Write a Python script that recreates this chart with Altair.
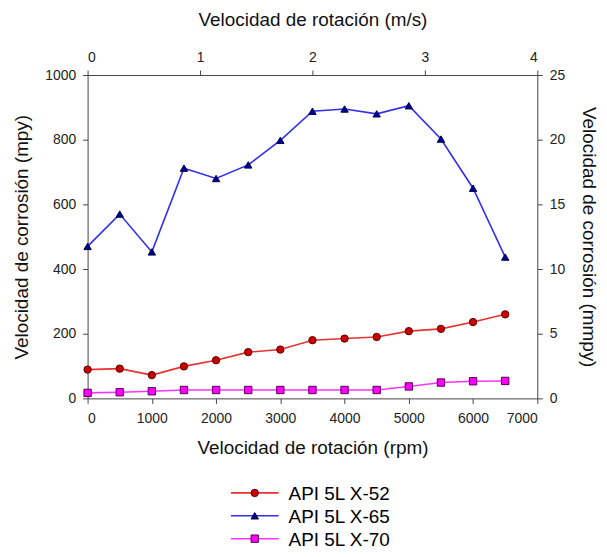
import altair as alt
import pandas as pd

rpm = [0, 500, 1000, 1500, 2000, 2500, 3000, 3500, 4000, 4500, 5000, 5500, 6000, 6500]
x52 = [89, 92, 72, 99, 118, 143, 151, 180, 185, 190, 208, 215, 236, 260]
x65 = [470, 570, 453, 712, 680, 722, 798, 888, 895, 880, 905, 802, 650, 437]
x70 = [17, 19, 22, 26, 26, 26, 26, 26, 26, 26, 37, 49, 53, 54]
series = ["API 5L X-52", "API 5L X-65", "API 5L X-70"]
line_colors = ["#e8322f", "#3030ee", "#ff33ff"]
fill_colors = ["#cc0000", "#000099", "#ff00ff"]
stroke_colors = ["#5a0000", "#000044", "#550055"]
shapes = ["circle", "triangle-up", "square"]
ms_domain = [0, 4]
mmpy_domain = [0, 25]

rows = []
for name, vals in zip(series, [x52, x65, x70]):
    for r, v in zip(rpm, vals):
        rows.append({"rpm": r, "mpy": v, "serie": name})
df = pd.DataFrame(rows)

FONT = "Liberation Sans"
W, H = 452, 325

x_bot = alt.X("rpm:Q", scale=alt.Scale(domain=[0, 7000], nice=False),
              axis=alt.Axis(title="Velocidad de rotación (rpm)", values=[0, 1000, 2000, 3000, 4000, 5000, 6000, 7000],
                            format="d", orient="bottom", grid=False, tickSize=5, labelPadding=8, titlePadding=13))
y_left = alt.Y("mpy:Q", scale=alt.Scale(domain=[0, 1000], nice=False),
               axis=alt.Axis(title="Velocidad de corrosión (mpy)", values=[0, 200, 400, 600, 800, 1000],
                             format="d", orient="left", grid=False, tickSize=5, labelPadding=7, titlePadding=13))

lines = alt.Chart(df).mark_line(strokeWidth=1.6).encode(
    x=x_bot, y=y_left,
    color=alt.Color("serie:N", scale=alt.Scale(domain=series, range=line_colors), legend=None),
    detail="serie:N",
)
points = alt.Chart(df).mark_point(filled=True, size=55, strokeWidth=1, opacity=1).encode(
    x=x_bot, y=y_left,
    fill=alt.Fill("serie:N", scale=alt.Scale(domain=series, range=fill_colors), legend=None),
    stroke=alt.Stroke("serie:N", scale=alt.Scale(domain=series, range=stroke_colors), legend=None),
    shape=alt.Shape("serie:N", scale=alt.Scale(domain=series, range=shapes), legend=None),
)

legend_layers = []
for i, name in enumerate(series):
    ly = 420 + 23 * i
    ldf = pd.DataFrame({"serie": [name]})
    legend_layers.append(alt.Chart(ldf).mark_rule(color=line_colors[i], strokeWidth=1.6).encode(
        x=alt.value(144), x2=alt.value(192), y=alt.value(ly)))
    legend_layers.append(alt.Chart(ldf).mark_point(filled=True, size=55, shape=shapes[i], fill=fill_colors[i],
                                                   stroke=stroke_colors[i], strokeWidth=1, opacity=1).encode(
        x=alt.value(168), y=alt.value(ly)))
    legend_layers.append(alt.Chart(ldf).mark_text(align="left", baseline="middle", fontSize=19, font=FONT,
                                                  color="#000000").encode(
        x=alt.value(202), y=alt.value(ly + 1), text="serie:N"))

main = alt.layer(lines, points, *legend_layers)

sec_df = pd.DataFrame({"ms": ms_domain, "mmpy": mmpy_domain})
secondary = alt.Chart(sec_df).mark_point(opacity=0, size=1).encode(
    x=alt.X("ms:Q", scale=alt.Scale(domain=ms_domain, nice=False),
            axis=alt.Axis(title="Velocidad de rotación (m/s)", values=[0, 1, 2, 3, 4], orient="top",
                          grid=False, tickSize=5, labelPadding=6, titlePadding=21)),
    y=alt.Y("mmpy:Q", scale=alt.Scale(domain=mmpy_domain, nice=False),
            axis=alt.Axis(title="Velocidad de corrosión (mmpy)", values=[0, 5, 10, 15, 20, 25], orient="right",
                          grid=False, tickSize=5, labelPadding=7, titlePadding=14)),
)

chart = alt.layer(main, secondary).resolve_scale(x="independent", y="independent").properties(
    width=W, height=H, background="white",
    autosize=alt.AutoSizeParams(type="none"),
    padding={"left": 80, "top": 66, "right": 62, "bottom": 150},
).configure_view(stroke=None).configure_axis(
    labelFont=FONT, titleFont=FONT, labelFontSize=14, titleFontSize=19, titleFontWeight="normal",
    labelColor="#222222", titleColor="#111111", domainColor="#444444", tickColor="#444444",
    domainWidth=1, tickWidth=1,
)

chart.save("out.html", embed_options={"renderer": "svg", "actions": False})
